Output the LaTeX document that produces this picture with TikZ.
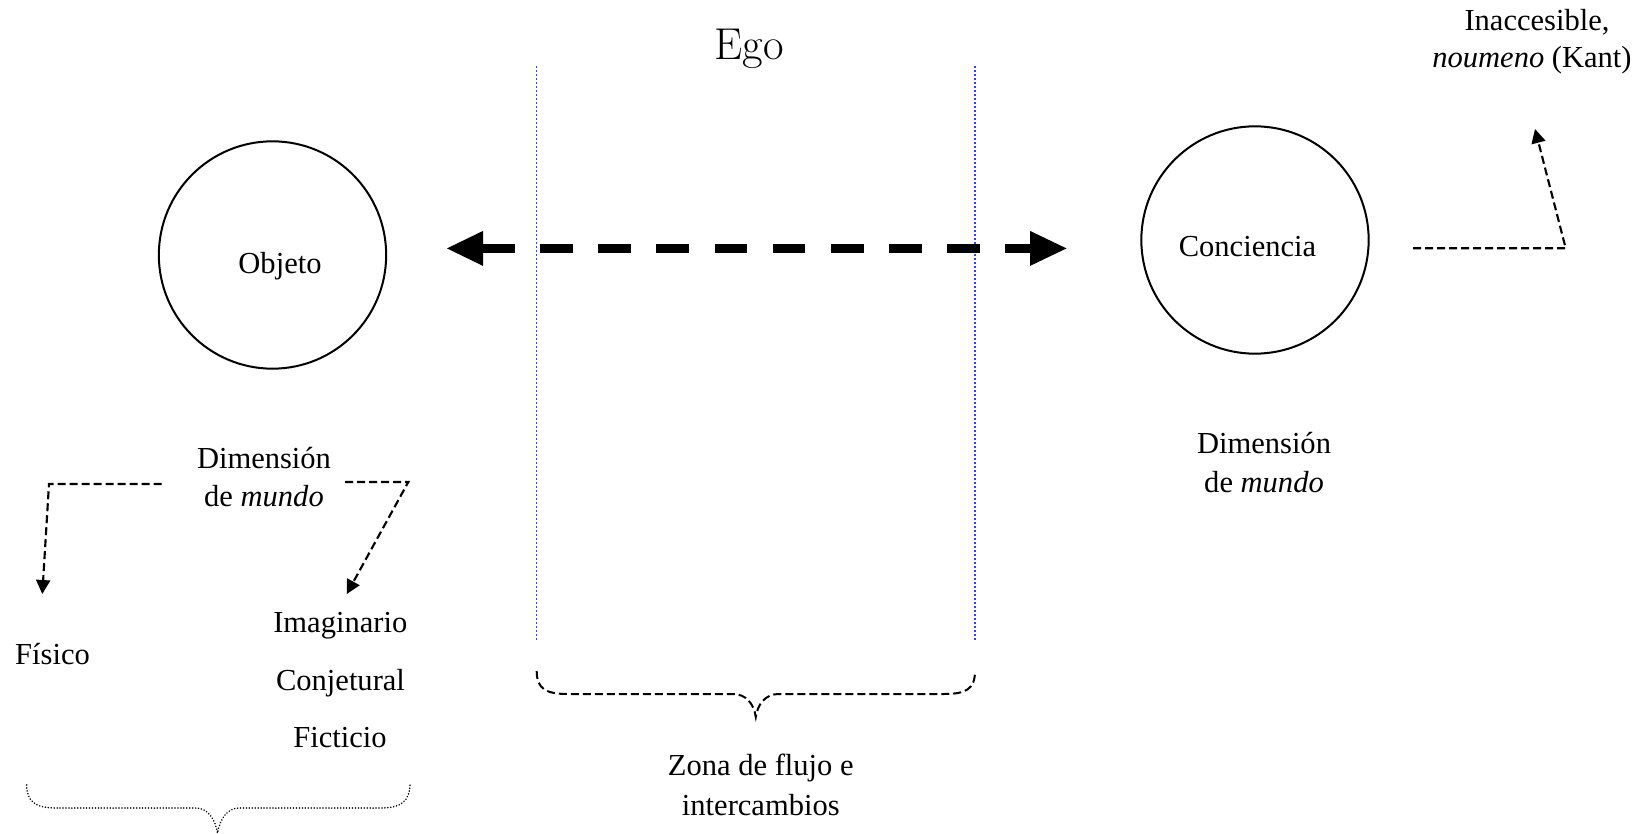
\documentclass[tikz,border=0pt]{standalone}
\usepackage{fontspec}
\newfontfamily\garfont{Liberation Serif}
\usetikzlibrary{arrows.meta}
\definecolor{guideblue}{RGB}{40,70,255}
\begin{document}
\begin{tikzpicture}[x=0.75pt,y=-0.75pt,
  lbl/.style={font=\garfont\fontsize{22.9}{27}\selectfont, inner sep=0pt, anchor=base},
  ring/.style={circle, draw, line width=1.5pt, minimum size=170.5pt, inner sep=0pt},
  link/.style={line width=1.6pt, dash pattern=on 6pt off 3pt, line join=miter,
    -{Triangle[length=10.5pt,width=10.5pt]}},
  guide/.style={guideblue, line width=1.1pt, dash pattern=on 1.2pt off 1.8pt},
  dashbrace/.style={line width=1.5pt, dash pattern=on 6pt off 3pt},
  dotbrace/.style={line width=1.3pt, dash pattern=on 0.01pt off 2.2pt, line cap=round},
  bigshaft/.style={line width=7pt, dash pattern=on 24.6pt off 19pt}
]
\useasboundingbox (0,0) rectangle (1637,834);

% title
\node[font=\fontsize{33.5}{40}\selectfont, inner sep=0pt, anchor=base] (ego) at (749,60) {Ego};

% exchange zone boundaries
\coordinate (zoneLt) at (536.7,66);
\coordinate (zoneLb) at (536.7,640);
\coordinate (zoneRt) at (975,66);
\coordinate (zoneRb) at (975,640);
\draw[guide] (zoneLt) -- (zoneLb);
\draw[guide] (zoneRt) -- (zoneRb);

% the two poles
\node[ring] (obj) at (272.5,255) {};
\node[lbl] (objtxt) at (280,273) {Objeto};
\node[ring] (con) at (1255,240) {};
\node[lbl] (contxt) at (1247.5,256.7) {Conciencia};

% double arrow between object and consciousness
\coordinate (arrL) at (447,248.4);
\coordinate (backL) at (482,248.4);
\coordinate (backR) at (1031,248.4);
\coordinate (arrR) at (1066.5,248.4);
\draw[bigshaft] (backL) -- (backR);
\fill (arrL) -- (483,230.9) -- (483,265.9) -- cycle;
\fill (arrR) -- (1030,230.9) -- (1030,265.9) -- cycle;

% inaccessible side
\node[lbl] (inac1) at (1537,31) {Inaccesible,};
\node[lbl] (inac2) at (1532,67.5) {\textit{noumeno} (Kant)};
\coordinate (nStart) at (1413,248.3);
\coordinate (nCorner) at (1565.7,248.3);
\coordinate (nTip) at (1535,129);
\draw[link] (nStart) -- (nCorner) -- (nTip);

% world dimension of the consciousness
\node[lbl] (dimR1) at (1264,453) {Dimensión};
\node[lbl] (dimR2) at (1264,492) {de \textit{mundo}};

% world dimension of the object
\node[lbl] (dimL1) at (264,468.3) {Dimensión};
\node[lbl] (dimL2) at (264,506.7) {de \textit{mundo}};
\coordinate (fStart) at (161.7,484);
\coordinate (fCorner) at (49,484);
\coordinate (fTip) at (42.3,594);
\draw[link] (fStart) -- (fCorner) -- (fTip);
\coordinate (iStart) at (345,482);
\coordinate (iCorner) at (408.3,482);
\coordinate (iTip) at (346.7,594);
\draw[link] (iStart) -- (iCorner) -- (iTip);

\node[lbl] (fisico) at (52.5,664) {Físico};
\node[lbl] (imag) at (340.3,632) {Imaginario};
\node[lbl] (conj) at (340.5,690) {Conjetural};
\node[lbl] (fict) at (340,747) {Ficticio};

% brace under the exchange zone
\draw[dashbrace] (536.7,671) .. controls (536.7,689) and (546,694) .. (568,694)
  -- (733,694) .. controls (746,694) and (754,704) .. (755.8,717)
  .. controls (757.6,704) and (765.6,694) .. (778.6,694)
  -- (944,694) .. controls (966,694) and (975,689) .. (975,671);
\node[lbl] (zona1) at (760.8,775) {Zona de flujo e};
\node[lbl] (zona2) at (760.8,815) {intercambios};

% brace under the world modes
\draw[dotbrace] (26.7,785) .. controls (26.7,802) and (36,808) .. (56,808)
  -- (196,808) .. controls (207,808) and (215,818) .. (217.5,833)
  .. controls (220,818) and (228,808) .. (239,808)
  -- (381,808) .. controls (401,808) and (410,801) .. (410,784);
\end{tikzpicture}
\end{document}
